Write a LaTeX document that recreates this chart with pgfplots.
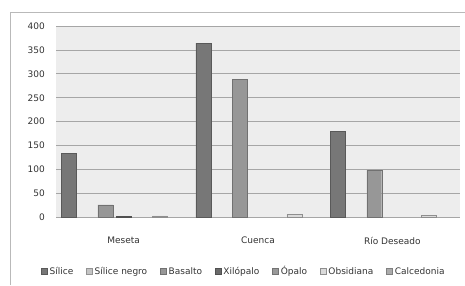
\documentclass[border=0pt]{standalone}
\usepackage{pgfplots}
\pgfplotsset{compat=1.18}
\usepackage{fontspec}
\setmainfont{DejaVu Sans}
\definecolor{cSil}{HTML}{777777}
\definecolor{cSilN}{HTML}{C4C4C4}
\definecolor{cBas}{HTML}{979797}
\definecolor{cXil}{HTML}{6A6A6A}
\definecolor{cOpa}{HTML}{999999}
\definecolor{cObs}{HTML}{DADADA}
\definecolor{cCal}{HTML}{ABABAB}
\begin{document}
\begin{tikzpicture}[x=1pt,y=1pt]
\useasboundingbox (0,0) rectangle (465,285);
\draw[gray!55, line width=0.8pt] (10.5,0) -- (10.5,272.5) -- (465,272.5);
\begin{axis}[
  at={(56.4pt,67.7pt)}, anchor=south west,
  scale only axis, width=403.2pt, height=191.3pt,
  xmin=-0.5, xmax=2.5, ymin=0, ymax=400,
  ytick={0,50,...,400},
  /pgf/number format/assume math mode=true,
  xtick={0,1,2}, xticklabels={Meseta,Cuenca,Río Deseado},
  major tick length=0pt,
  axis line style={draw=none},
  axis background/.style={fill=black!7},
  ymajorgrids, grid style={black!35, line width=0.8pt},
  yticklabel style={font=\fontsize{9}{11}\selectfont, text=black!80, xshift=-8pt},
  xticklabel style={font=\fontsize{9}{10}\selectfont, text=black!80, yshift=-16pt},
  ybar, bar width=0.111,
  legend columns=7,
  legend style={at={(0.465,-0.283)}, anchor=center, draw=none, fill=none,
    font=\fontsize{9}{10}\selectfont, text=black!80,
    /tikz/every even column/.append style={column sep=11pt}},
  legend image code/.code={\draw[#1] (0pt,-3pt) rectangle (6pt,3pt);},
]
\addplot[fill=cSil, draw=cSil!75!black, bar shift=-0.406] coordinates {(0,133) (1,364) (2,179)};
\addlegendentry{Sílice}
\addlegendimage{fill=cSilN, draw=cSilN!75!black}
\addlegendentry{Sílice negro}
\addplot[fill=cBas, draw=cBas!75!black, bar shift=-0.135] coordinates {(0,26) (1,288) (2,99)};
\addlegendentry{Basalto}
\addplot[fill=cXil, draw=cXil!75!black, bar shift=0] coordinates {(0,2)};
\addlegendentry{Xilópalo}
\addlegendimage{fill=cOpa, draw=cOpa!75!black}
\addlegendentry{Ópalo}
\addplot[fill=cObs, draw=cObs!65!black, bar shift=0.271] coordinates {(0,3) (1,6) (2,4)};
\addlegendentry{Obsidiana}
\addlegendimage{fill=cCal, draw=cCal!75!black}
\addlegendentry{Calcedonia}
\end{axis}
\end{tikzpicture}
\end{document}
